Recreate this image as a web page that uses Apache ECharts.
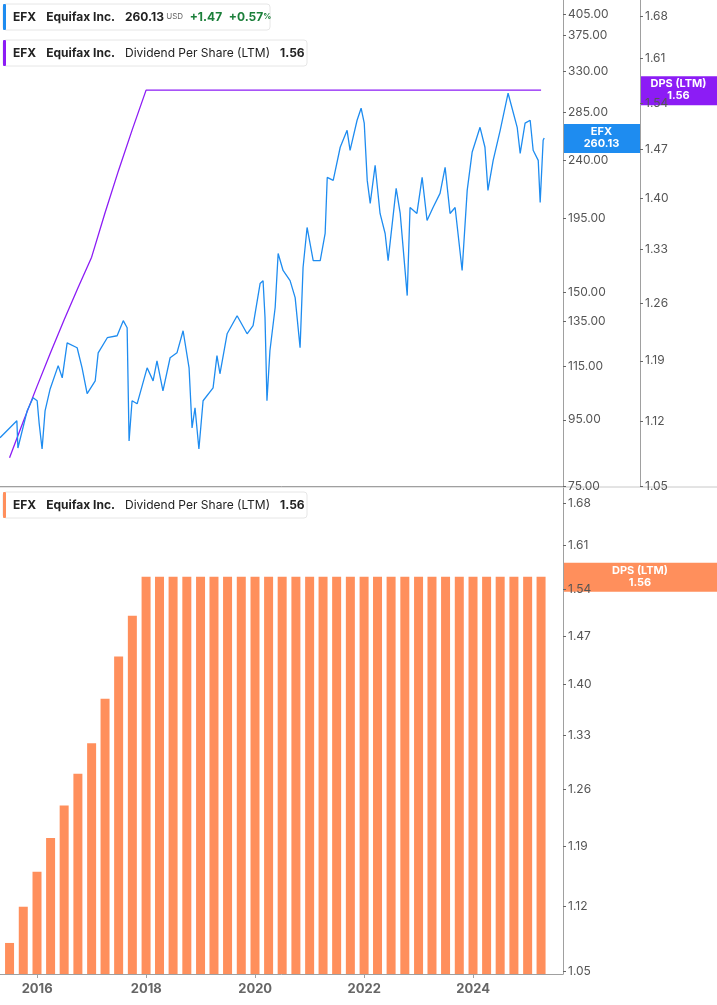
<!DOCTYPE html>
<html><head><meta charset="utf-8">
<script src="https://cdn.jsdelivr.net/npm/echarts@6/dist/echarts.min.js"></script>
<style>html,body{margin:0;padding:0;background:#fff}#c{width:717px;height:1005px}</style>
</head><body><div id="c"></div>
<script>
const priceDates = ['2015-04-27','2015-08-18','2015-08-25','2015-10-26','2015-12-05','2016-01-01','2016-01-14','2016-02-03','2016-02-23','2016-03-28','2016-05-21','2016-06-17','2016-07-20','2016-09-25','2016-10-28','2016-12-01','2017-01-24','2017-02-13','2017-04-15','2017-06-20','2017-07-31','2017-08-26','2017-09-08','2017-09-28','2017-11-01','2018-01-07','2018-02-16','2018-03-14','2018-04-23','2018-06-10','2018-07-26','2018-09-05','2018-10-15','2018-11-04','2018-11-24','2018-12-20','2019-01-17','2019-03-25','2019-04-20','2019-05-10','2019-06-27','2019-09-02','2019-11-08','2019-12-18','2020-02-03','2020-02-23','2020-03-07','2020-03-20','2020-04-09','2020-05-14','2020-06-03','2020-07-06','2020-08-22','2020-09-25','2020-10-28','2020-11-17','2020-12-14','2021-01-24','2021-03-12','2021-04-14','2021-04-28','2021-06-07','2021-07-24','2021-09-08','2021-09-28','2021-11-14','2021-12-11','2022-01-01','2022-01-21','2022-02-10','2022-03-15','2022-04-17','2022-05-21','2022-06-10','2022-08-03','2022-08-30','2022-10-16','2022-11-04','2022-12-20','2023-01-24','2023-02-26','2023-04-07','2023-05-24','2023-06-27','2023-07-30','2023-09-02','2023-10-19','2023-11-22','2023-12-25','2024-02-16','2024-03-20','2024-04-09','2024-05-14','2024-06-30','2024-08-22','2024-10-22','2024-11-11','2024-12-14','2025-01-17','2025-02-06','2025-03-12','2025-03-25','2025-04-14','2025-04-21'];
const priceValues = [89.1,94.7,85.9,98.1,102.8,101.7,94.0,85.6,98.1,106.1,115.3,110.4,125.1,122.9,114.4,104.3,109.2,120.7,127.4,128.3,135.4,132.0,88.1,101.7,100.6,114.4,109.2,117.3,105.4,118.6,120.7,130.6,114.4,92.3,99.2,85.6,101.7,106.5,119.5,112.0,129.2,137.8,129.2,133.0,154.6,156.2,136.9,101.7,121.6,141.9,172.1,162.0,156.2,147.0,122.9,163.7,188.9,167.8,167.8,184.9,225.9,223.5,251.6,267.3,248.9,277.1,289.3,274.2,223.5,205.9,235.9,198.6,184.9,167.8,217.2,198.6,148.1,202.9,198.6,225.9,193.7,202.9,213.4,234.2,198.6,202.9,162.0,215.7,247.1,270.2,251.6,215.7,240.1,267.3,305.2,270.2,246.2,274.2,277.1,248.9,240.1,206.6,257.9,260.13];
const dpsDates = ['2015-06-30','2015-09-30','2015-12-31','2016-03-31','2016-06-30','2016-09-30','2016-12-31','2017-03-31','2017-06-30','2017-09-30','2017-12-31','2018-03-31','2018-06-30','2018-09-30','2018-12-31','2019-03-31','2019-06-30','2019-09-30','2019-12-31','2020-03-31','2020-06-30','2020-09-30','2020-12-31','2021-03-31','2021-06-30','2021-09-30','2021-12-31','2022-03-31','2022-06-30','2022-09-30','2022-12-31','2023-03-31','2023-06-30','2023-09-30','2023-12-31','2024-03-31','2024-06-30','2024-09-30','2024-12-31','2025-03-31'];
const dpsValues = [1.08,1.12,1.16,1.20,1.24,1.28,1.32,1.38,1.44,1.50,1.56,1.56,1.56,1.56,1.56,1.56,1.56,1.56,1.56,1.56,1.56,1.56,1.56,1.56,1.56,1.56,1.56,1.56,1.56,1.56,1.56,1.56,1.56,1.56,1.56,1.56,1.56,1.56,1.56,1.56];
const priceTicks = [75,95,115,135,150,195,240,285,330,375,405];
const dpsTicks = [1.05,1.12,1.19,1.26,1.33,1.40,1.47,1.54,1.61,1.68];
const yearTicks = ['2016-01-01','2018-01-01','2020-01-01','2022-01-01','2024-01-01'];

const L = Math.log;
const T = d => +new Date(d);
const blue = '#1e8cf0', purple = '#8c1cf5', orange = '#ff8f5c', gray = '#a0a0a0', txt = '#555';
const FF = 'Inter, Roboto, sans-serif';
const xMin = T('2015-04-27'), xMax = T('2025-08-25');
const chart = echarts.init(document.getElementById('c'));
function logAxis(ticks, min, max, gi, offset) {
  return {type:'value', gridIndex:gi, position:'right', offset:offset, min:min, max:max,
    axisLine:{show:true,lineStyle:{color:gray}}, splitLine:{show:false},
    axisTick:{show:true,length:3,customValues:ticks.map(L),lineStyle:{color:'#666'}},
    axisLabel:{customValues:ticks.map(L),color:txt,fontFamily:FF,fontSize:12,margin:5,
      formatter:v=>Math.exp(v).toFixed(2)}};
}
chart.setOption({
  animation:false,
  grid:[{left:0,right:154,top:0,height:486},{left:0,right:154,top:488,height:486}],
  xAxis:[
    {type:'value',gridIndex:0,min:xMin,max:xMax,axisLine:{show:true,lineStyle:{color:gray}},axisTick:{show:false},axisLabel:{show:false},splitLine:{show:false}},
    {type:'value',gridIndex:1,min:xMin,max:xMax,axisLine:{show:true,lineStyle:{color:gray}},splitLine:{show:false},
     axisTick:{show:true,length:4,customValues:yearTicks.map(T),lineStyle:{color:gray}},
     axisLabel:{customValues:yearTicks.map(T),color:'#666',fontWeight:'bold',fontFamily:FF,fontSize:13,margin:9,
       formatter:v=>String(new Date(v).getFullYear())}}
  ],
  yAxis:[
    logAxis(priceTicks, L(75), L(405)+14/279.3, 0, 0),
    logAxis(dpsTicks, L(1.05), L(1.68)+16/998, 0, 77),
    logAxis(dpsTicks, L(1.05)-3/995.7, L(1.68)+15/995.7, 1, 0)
  ],
  series:[
    {type:'line',xAxisIndex:0,yAxisIndex:1,data:dpsDates.map((d,i)=>[T(d),L(dpsValues[i])]),showSymbol:false,lineStyle:{color:purple,width:1.3}},
    {type:'line',xAxisIndex:0,yAxisIndex:0,data:priceDates.map((d,i)=>[T(d),L(priceValues[i])]),showSymbol:false,lineStyle:{color:blue,width:1.3}},
    {type:'bar',xAxisIndex:1,yAxisIndex:2,data:dpsDates.map((d,i)=>[T(d),L(dpsValues[i])]),barWidth:9,itemStyle:{color:orange}}
  ]
});
const lastP = priceValues[priceValues.length-1], lastD = dpsValues[dpsValues.length-1];
const yP = chart.convertToPixel({xAxisIndex:0,yAxisIndex:0},[xMax,L(lastP)])[1];
const yD = chart.convertToPixel({xAxisIndex:0,yAxisIndex:1},[xMax,L(lastD)])[1];
const yB = chart.convertToPixel({xAxisIndex:1,yAxisIndex:2},[xMax,L(lastD)])[1];
function tag(x,y,w,color,label){
  return {type:'group',children:[
    {type:'rect',shape:{x:x,y:y-14,width:w,height:29},style:{fill:color}},
    {type:'text',x:x+w/2,y:y,style:{text:label,fill:'#fff',font:'bold 11px '+FF,align:'center',verticalAlign:'middle',lineHeight:12}}]};
}
function legendBox(y,w,color,rich){
  return {type:'group',children:[
    {type:'rect',shape:{x:3,y:y,width:w,height:26,r:3},style:{fill:'#fff',stroke:'#e6e6e6',lineWidth:1}},
    {type:'rect',shape:{x:3,y:y,width:3,height:26,r:1},style:{fill:color}},
    {type:'text',x:13,y:y+13,style:{rich:rich.r,text:rich.t,verticalAlign:'middle'}}]};
}
const base = {fontFamily:FF,fontSize:12,fill:'#222',fontWeight:'bold'};
const richA = {b:Object.assign({},base),n:Object.assign({},base,{fontWeight:'normal'}),u:Object.assign({},base,{fontSize:8,fill:'#666',fontWeight:'normal'}),g:Object.assign({},base,{fill:'#1b7f3a'}),gp:Object.assign({},base,{fill:'#1b7f3a',fontSize:8})};
chart.setOption({graphic:[
  {type:'line',shape:{x1:0,y1:487,x2:717,y2:487},style:{stroke:'#c8c8c8',lineWidth:1}},
  tag(563,yP,77,blue,'EFX\n'+lastP.toFixed(2)),
  tag(640,yD,77,purple,'DPS (LTM)\n'+lastD.toFixed(2)),
  tag(563,yB,154,orange,'DPS (LTM)\n'+lastD.toFixed(2)),
  legendBox(4,267,blue,{r:richA,t:'{b|EFX}   {b|Equifax Inc.}   {b|'+lastP.toFixed(2)+'}{u| USD}  {g|+1.47}  {g|+0.57}{gp|%}'}),
  legendBox(40,304,purple,{r:richA,t:'{b|EFX}   {b|Equifax Inc.}   {n|Dividend Per Share (LTM)}   {b|'+lastD.toFixed(2)+'}'}),
  legendBox(492,304,orange,{r:richA,t:'{b|EFX}   {b|Equifax Inc.}   {n|Dividend Per Share (LTM)}   {b|'+lastD.toFixed(2)+'}'})
]});
</script></body></html>
